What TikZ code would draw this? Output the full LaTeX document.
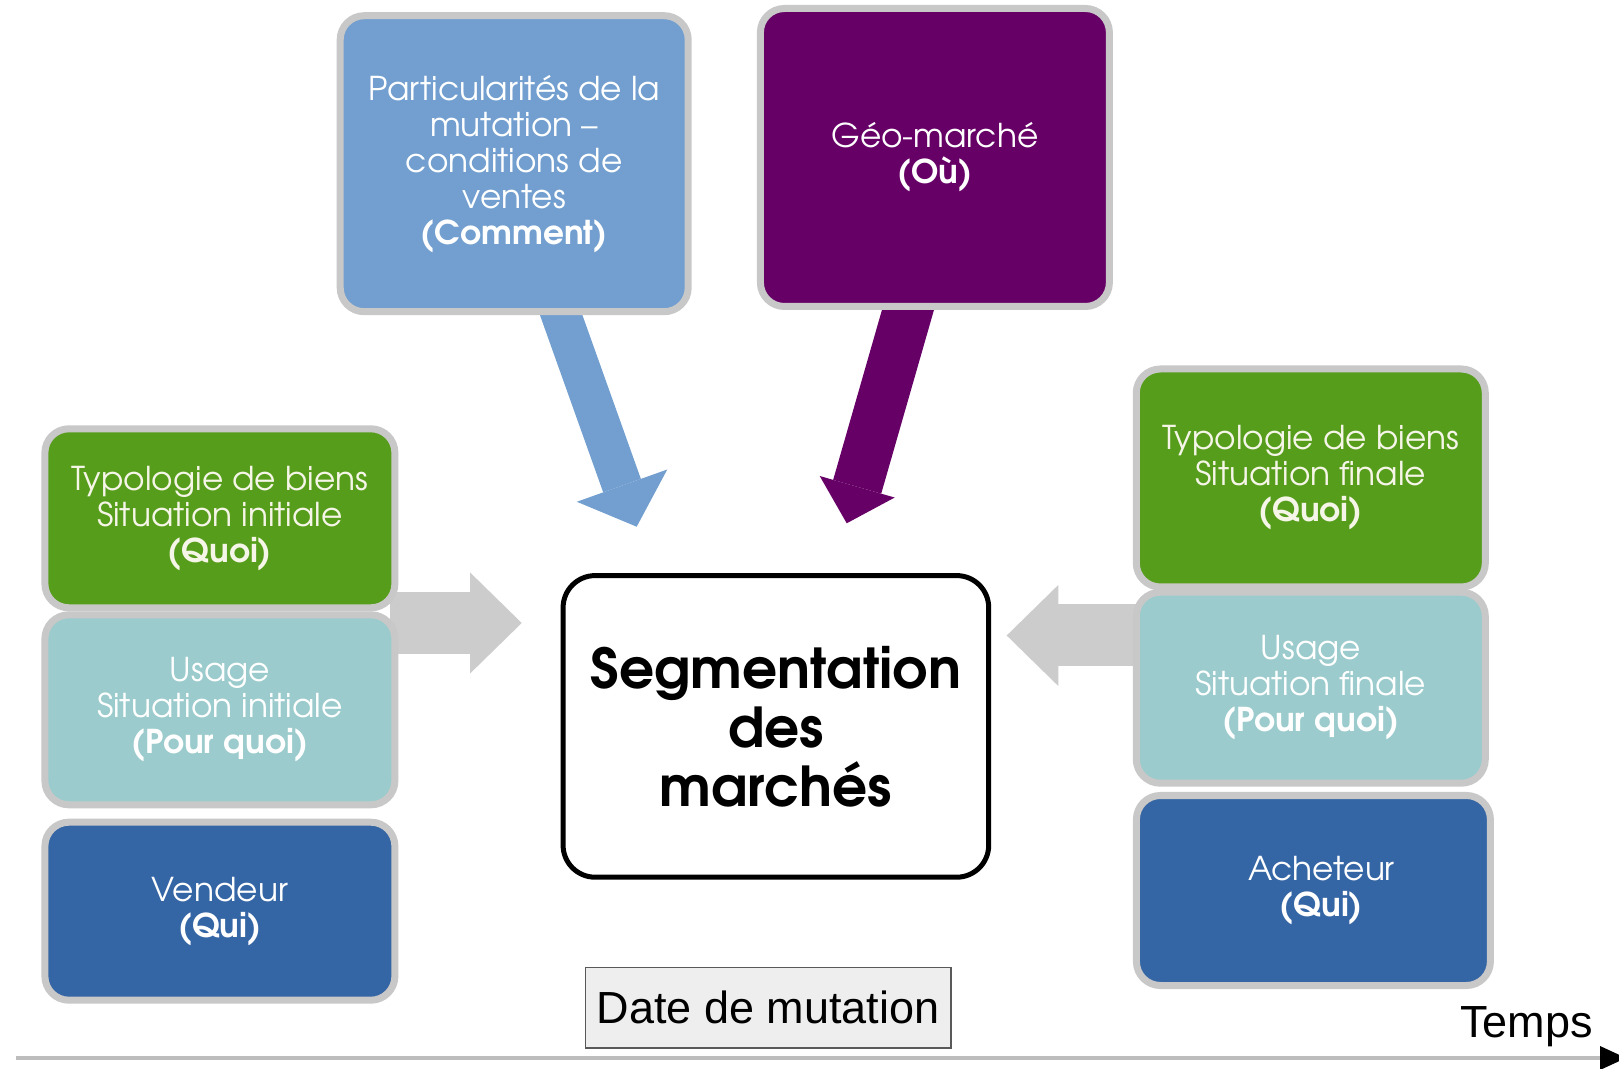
\documentclass[tikz,border=0pt]{standalone}
\usepackage{fontspec}
\setmainfont{texgyreadventor}[Extension=.otf, UprightFont=*-regular, BoldFont=*-bold]
\newfontfamily\datefont{Liberation Sans}
\usetikzlibrary{arrows.meta}
\definecolor{boxgray}{HTML}{C8C8C8}
\definecolor{lblue}{HTML}{729FCF}
\definecolor{purp}{HTML}{660066}
\definecolor{grn}{HTML}{579D1C}
\definecolor{teal2}{HTML}{9BCBCC}
\definecolor{dblue}{HTML}{3465A4}
\definecolor{arrgray}{HTML}{CCCCCC}
\definecolor{axgray}{HTML}{BDBDBD}
\definecolor{datefill}{HTML}{EEEEEE}
\definecolor{greentext}{HTML}{F6F6E8}
\begin{document}
\begin{tikzpicture}[x=0.5pt,y=-0.5pt,
  cbox/.style={draw=boxgray, line width=3.5pt, rounded corners=12pt, text=white, align=center,
    font=\fontsize{16.4}{18}\selectfont, inner sep=0pt},
  centerbox/.style={draw=black, line width=2.5pt, rounded corners=16pt, fill=white, align=center,
    font=\fontsize{27.5}{29.5}\selectfont\bfseries, inner sep=0pt},
  datebox/.style={draw=black!65, line width=0.8pt, fill=datefill, inner sep=0pt,
    font=\datefont\fontsize{22.5}{26}\selectfont},
  grayarrow/.style={draw=arrgray, line width=31pt, -{Triangle[length=25.8pt,width=50.5pt,line width=0pt]}},
  bluearrow/.style={draw=lblue, line width=20pt, -{Triangle[length=21.8pt,width=48pt,line width=0pt]}},
  purparrow/.style={draw=purp, line width=25pt, -{Triangle[length=19pt,width=39pt,line width=0pt]}},
  axis/.style={draw=axgray, line width=2pt, -{Triangle[length=13pt,width=12pt,line width=0pt,color=black]}}
]
\useasboundingbox (0,0) rectangle (1619,1069);
\fill[white] (0,0) rectangle (1619,1069);

% arrow end points
\coordinate (bs) at (549.3,281.8);
\coordinate (bt) at (636.7,526.7);
\coordinate (ps) at (915.7,283);
\coordinate (pt) at (846.7,523.3);
\coordinate (ls) at (390,623);
\coordinate (lt) at (521.7,623);
\coordinate (rs) at (1140,635.5);
\coordinate (rt) at (1006.7,635.5);
\coordinate (axs) at (15.5,1058);
\coordinate (axe) at (1626,1058);

% connectors (drawn below the boxes)
\draw[bluearrow] (bs) -- (bt);
\draw[purparrow] (ps) -- (pt);
\draw[grayarrow] (ls) -- (lt);
\draw[grayarrow] (rs) -- (rt);

% top boxes
\node[cbox, fill=lblue, minimum width=174pt, minimum height=148pt] (comment) at (514.2,163.7)
  {Particularités de la\\ mutation –\\ conditions de\\ ventes\\ \textbf{(Comment)}};
\node[cbox, fill=purp, minimum width=174.5pt, minimum height=149pt] (ou) at (934.9,157.5)
  {Géo-marché\\ \textbf{(Où)}};

% left column
\node[cbox, fill=grn, text=greentext, minimum width=175pt, minimum height=89.5pt] (lquoi) at (219.9,518.3)
  {Typologie de biens\\ Situation initiale\\ \textbf{(Quoi)}};
\node[cbox, fill=teal2, minimum width=175pt, minimum height=95pt] (lpq) at (219.9,709.8)
  {Usage\\ Situation initiale\\ \textbf{(Pour quoi)}};
\node[cbox, fill=dblue, minimum width=175pt, minimum height=89pt] (lqui) at (219.9,911.2)
  {Vendeur\\ \textbf{(Qui)}};

% right column
\node[cbox, fill=grn, text=greentext, minimum width=174.5pt, minimum height=109pt] (rquoi) at (1310.8,478)
  {Typologie de biens\\ Situation finale\\ \textbf{(Quoi)}};
\node[cbox, fill=teal2, minimum width=174.5pt, minimum height=95.5pt] (rpq) at (1310.8,687.7)
  {Usage\\ Situation finale\\ \textbf{(Pour quoi)}};
\node[cbox, fill=dblue, minimum width=177pt, minimum height=95pt] (rqui) at (1313.4,890.5)
  {\hspace*{8pt}Acheteur\\ \hspace*{8pt}\textbf{(Qui)}};

% centre
\node[centerbox, minimum width=212.8pt, minimum height=150.8pt] (seg) at (775.9,726.4)
  {Segmentation\\ des\\ marchés};

% date and time axis
\node[datebox, minimum width=182.7pt, minimum height=40.2pt] (date) at (768.2,1007.7) {Date de mutation};
\draw[axis] (axs) -- (axe);
\node[font=\datefont\fontsize{22.5}{26}\selectfont, anchor=base east, inner sep=0pt] (temps) at (1593,1037) {Temps};
\end{tikzpicture}
\end{document}
